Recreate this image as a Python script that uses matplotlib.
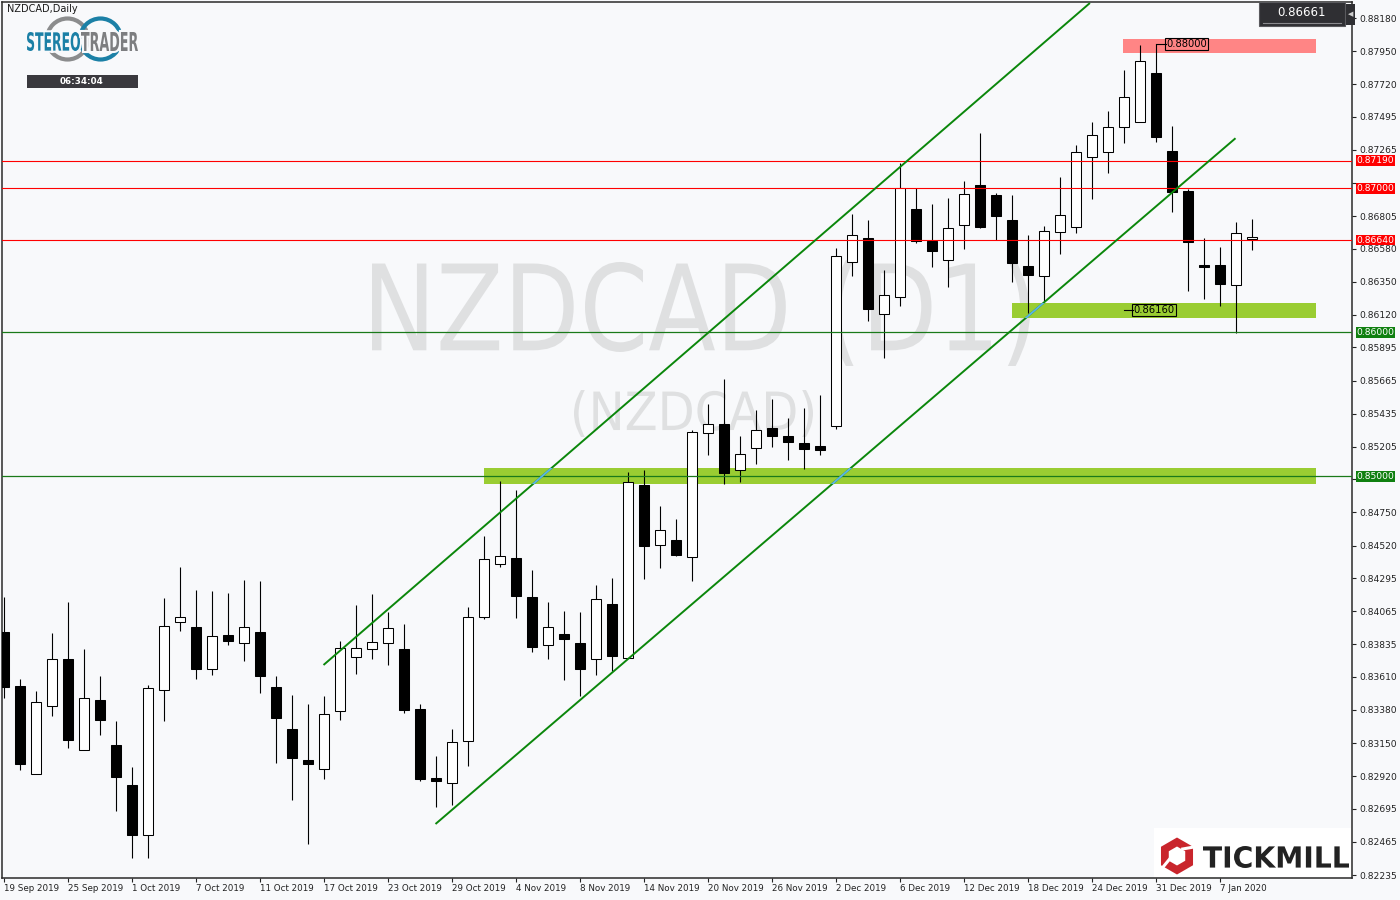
import numpy as np
import pandas as pd
import matplotlib
matplotlib.use('Agg')
import matplotlib.pyplot as plt
import matplotlib.patheffects as pe
from matplotlib.patches import Rectangle, PathPatch, Circle, RegularPolygon
from matplotlib.lines import Line2D
from matplotlib.textpath import TextPath
from matplotlib.font_manager import FontProperties
from matplotlib.transforms import Affine2D, IdentityTransform, blended_transform_factory

W, H = 1400, 900
BG = '#f8f9fb'

# trading days shown (weekdays, no Christmas / New Year bar)
dates = [d for d in pd.bdate_range('2019-09-19', '2020-01-09')
         if d.strftime('%m-%d') not in ('12-25', '01-01')]

opens = [0.83923, 0.83546, 0.82934, 0.83405, 0.83734, 0.83100, 0.83449, 0.83137, 0.82860, 0.82515,
         0.83516, 0.83988, 0.83956, 0.83662, 0.83900, 0.83842, 0.83921, 0.83539, 0.83248, 0.83033,
         0.82968, 0.83371, 0.83745, 0.83801, 0.83842, 0.83801, 0.83385, 0.82906, 0.82871, 0.83163,
         0.84023, 0.84390, 0.84434, 0.84162, 0.83829, 0.83907, 0.83842, 0.83736, 0.84113, 0.83738,
         0.84938, 0.84522, 0.84557, 0.84439, 0.85301, 0.85362, 0.85045, 0.85195, 0.85334, 0.85278,
         0.85232, 0.85211, 0.85348, 0.86485, 0.86654, 0.86125, 0.86243, 0.86855, 0.86633, 0.86499,
         0.86742, 0.87022, 0.86952, 0.86779, 0.86460, 0.86388, 0.86693, 0.86732, 0.87214, 0.87253,
         0.87422, 0.87457, 0.87798, 0.87257, 0.86980, 0.86465, 0.86465, 0.86326, 0.86647]
highs = [0.84166, 0.83595, 0.83512, 0.83916, 0.84131, 0.83803, 0.83616, 0.83303, 0.82984, 0.83551,
         0.84157, 0.84374, 0.84212, 0.84205, 0.84191, 0.84282, 0.84275, 0.83616, 0.83484, 0.83421,
         0.83479, 0.83858, 0.84108, 0.84184, 0.84062, 0.83976, 0.83421, 0.83061, 0.83246, 0.84092,
         0.84587, 0.84968, 0.84906, 0.84351, 0.84129, 0.84066, 0.84060, 0.84247, 0.84293, 0.85031,
         0.85045, 0.84795, 0.84705, 0.85322, 0.85502, 0.85676, 0.85280, 0.85461, 0.85537, 0.85405,
         0.85473, 0.85565, 0.86587, 0.86820, 0.86779, 0.86434, 0.87176, 0.86999, 0.86890, 0.86931,
         0.87049, 0.87384, 0.86968, 0.86952, 0.86675, 0.86737, 0.87079, 0.87299, 0.87459, 0.87535,
         0.87819, 0.87993, 0.87998, 0.87431, 0.86992, 0.86652, 0.86592, 0.86763, 0.86786]
lows = [0.83461, 0.82964, 0.82934, 0.83340, 0.83118, 0.83100, 0.83209, 0.82681, 0.82355, 0.82355,
        0.83306, 0.83930, 0.83597, 0.83625, 0.83831, 0.83722, 0.83500, 0.83014, 0.82758, 0.82452,
        0.82903, 0.83313, 0.83632, 0.83731, 0.83694, 0.83361, 0.82889, 0.82709, 0.82723, 0.82993,
        0.84009, 0.84374, 0.84020, 0.83784, 0.83736, 0.83588, 0.83479, 0.83623, 0.83650, 0.83738,
        0.84288, 0.84367, 0.84448, 0.84277, 0.85149, 0.84950, 0.84963, 0.85088, 0.85204, 0.85116,
        0.85054, 0.85151, 0.85327, 0.86392, 0.86080, 0.85824, 0.86184, 0.86621, 0.86455, 0.86316,
        0.86580, 0.86725, 0.86640, 0.86351, 0.86132, 0.86219, 0.86545, 0.86691, 0.86924, 0.87107,
        0.87315, 0.87457, 0.87322, 0.86836, 0.86288, 0.86233, 0.86184, 0.85993, 0.86573]
closes = [0.83541, 0.83007, 0.83433, 0.83734, 0.83174, 0.83463, 0.83313, 0.82917, 0.82515, 0.83532,
          0.83960, 0.84023, 0.83666, 0.83891, 0.83860, 0.83953, 0.83618, 0.83326, 0.83049, 0.83007,
          0.83350, 0.83808, 0.83808, 0.83849, 0.83946, 0.83382, 0.82903, 0.82885, 0.83156, 0.84028,
          0.84425, 0.84446, 0.84173, 0.83819, 0.83953, 0.83874, 0.83662, 0.84148, 0.83752, 0.84959,
          0.84519, 0.84626, 0.84457, 0.85306, 0.85362, 0.85026, 0.85153, 0.85320, 0.85278, 0.85237,
          0.85188, 0.85181, 0.86529, 0.86673, 0.86164, 0.86256, 0.86999, 0.86631, 0.86566, 0.86721,
          0.86957, 0.86732, 0.86809, 0.86483, 0.86399, 0.86702, 0.86811, 0.87248, 0.87366, 0.87424,
          0.87630, 0.87880, 0.87352, 0.86975, 0.86628, 0.86455, 0.86337, 0.86687, 0.86661]

yticks = [0.88180, 0.87950, 0.87720, 0.87495, 0.87265, 0.87035, 0.86805, 0.86580, 0.86350,
          0.86120, 0.85895, 0.85665, 0.85435, 0.85205, 0.84980, 0.84750, 0.84520, 0.84295,
          0.84065, 0.83835, 0.83610, 0.83380, 0.83150, 0.82920, 0.82695, 0.82465, 0.82235]

red_levels = [0.87190, 0.87000, 0.86640]
green_levels = [0.86000, 0.85000]

# channel: (bar, price) end points
upper_chan = ([20, 67.9], [0.83692, 0.88284])
lower_chan = ([27, 77], [0.82589, 0.87346])

# zones: (bar start, bar end, low, high)
green_zones = [(30, 82, 0.84950, 0.85057), (63, 82, 0.86101, 0.86203)]
red_zone = (69.95, 82, 0.87939, 0.88034)

last_price = 0.86661


def path_text(target, s, box, color, weight='normal', zorder=1, stroke=None):
    # draw text stretched into a pixel box (x0, y0, x1, y1), y measured from top
    x0, y0, x1, y1 = box
    tp = TextPath((0, 0), s, size=100, prop=FontProperties(family='DejaVu Sans', weight=weight))
    ext = tp.get_extents()
    tr = (Affine2D().translate(-ext.x0, -ext.y0)
          .scale((x1 - x0) / ext.width, (y1 - y0) / ext.height)
          .translate(x0, H - y1))
    patch = PathPatch(tp, transform=tr, fc=color, ec='none', zorder=zorder)
    if stroke:
        patch.set_path_effects([pe.Stroke(linewidth=stroke, foreground=BG), pe.Normal()])
    target.add_artist(patch)
    return patch


fig = plt.figure(figsize=(W / 100, H / 100), dpi=100, facecolor=BG)
ax = fig.add_axes([2 / W, 22 / H, 1350 / W, 876 / H], facecolor=BG)

# watermark
path_text(ax, 'NZDCAD (D1)', (372, 260, 1030, 366), '#dfe0e1', zorder=0.5)
path_text(ax, '(NZDCAD)', (574, 390, 813, 437), '#dfe0e1', zorder=0.5)

# zones
zone_patches = []
for b0, b1, lo, hi in green_zones:
    r = Rectangle((b0, lo), b1 - b0, hi - lo, fc='#9acd32', ec='none', zorder=1)
    ax.add_patch(r)
    zone_patches.append(r)
b0, b1, lo, hi = red_zone
ax.add_patch(Rectangle((b0, lo), b1 - b0, hi - lo, fc='#ff8585', ec='none', zorder=1))

# candles
for i in range(len(dates)):
    o, h, l, c = opens[i], highs[i], lows[i], closes[i]
    ax.vlines(i, l, h, color='black', lw=0.8, zorder=2)
    body = max(abs(c - o), 0.00001)
    ax.add_patch(Rectangle((i - 0.3125, min(o, c)), 0.625, body,
                           fc='black' if c < o else 'white', ec='black', lw=0.75, zorder=3))

# levels
for lv in red_levels:
    ax.axhline(lv, color='#ff0000', lw=0.8, zorder=4)
for lv in green_levels:
    ax.axhline(lv, color='#1a7a1a', lw=0.9, zorder=4)

# channel
for xs, ys in (upper_chan, lower_chan):
    ax.plot(xs, ys, color='#0b870b', lw=1.4, zorder=4, solid_capstyle='butt')
    for zp in zone_patches:
        ln, = ax.plot(xs, ys, color='#5ab4e6', lw=1.4, zorder=4.5)
        ln.set_clip_path(zp)

# price labels on the zones
ax.plot([72, 72.65], [0.88, 0.88], color='black', lw=0.8, zorder=5)
ax.text(73.95, 0.88, '0.88000', fontsize=7.2, ha='center', va='center', color='black', zorder=6,
        bbox=dict(boxstyle='square,pad=0.12', fc='none', ec='black', lw=0.8))
ax.plot([70, 70.6], [0.86154, 0.86154], color='black', lw=0.8, zorder=5)
ax.text(71.9, 0.86154, '0.86160', fontsize=7.2, ha='center', va='center', color='black', zorder=6,
        bbox=dict(boxstyle='square,pad=0.12', fc='none', ec='black', lw=0.8))

ax.set_xlim(-0.094, 84.28)
ax.set_ylim(0.822144, 0.88291)

# axes styling
for sp in ax.spines.values():
    sp.set_color('#2a2a2a')
    sp.set_linewidth(1.1)
ax.yaxis.tick_right()
ax.set_yticks(yticks)
# the two scale values sitting under the 0.87000 / 0.85000 labels are hidden there
hidden = {0.87035, 0.84980}
ax.set_yticklabels(['' if v in hidden else f'{v:.5f}' for v in yticks])
xt = list(range(0, len(dates), 4))
ax.set_xticks(xt)
ax.set_xticklabels([f"{dates[i].day} {dates[i].strftime('%b %Y')}" for i in xt])
for lab in ax.get_xticklabels():
    lab.set_horizontalalignment('left')
ax.tick_params(axis='y', direction='out', length=3, width=0.8, pad=2.5, labelsize=6.6,
               colors='#222222')
ax.tick_params(axis='x', direction='out', length=3, width=0.8, pad=1.5, labelsize=6.3,
               colors='#222222')

# highlighted level labels on the price scale
trans = blended_transform_factory(ax.transAxes, ax.transData)
for lv, col in [(v, '#ff0000') for v in red_levels] + [(v, '#108010') for v in green_levels]:
    ax.add_patch(Rectangle((1.0026, lv - 0.00038), 0.0296, 0.00076, transform=trans,
                           fc=col, ec='none', clip_on=False, zorder=8))
    ax.text(1.0174, lv, f'{lv:.5f}', transform=trans, fontsize=6.6, color='white',
            ha='center', va='center', clip_on=False, zorder=9)

# top left caption and StereoTrader logo
fig.text(7 / W, 1 - 4 / H, 'NZDCAD,Daily', fontsize=7, color='#1a1a1a', ha='left', va='top')
fig.add_artist(Circle((67.5, H - 39), 20.5, transform=IdentityTransform(), fill=False,
                      ec='#8b8c8d', lw=3, zorder=5))
fig.add_artist(Circle((100.5, H - 39), 20.5, transform=IdentityTransform(), fill=False,
                      ec='#1b80a6', lw=3, zorder=5))
path_text(fig, 'STEREO', (27, 32, 80, 51), '#1b80a6', weight='bold', zorder=6, stroke=3)
path_text(fig, 'TRADER', (81, 32, 138, 51), '#7d7e80', weight='bold', zorder=6, stroke=3)
fig.add_artist(Rectangle((27 / W, 1 - 88 / H), 111 / W, 13 / H, transform=fig.transFigure,
                         fc='#3a393e', ec='none', zorder=5))
fig.text(82 / W, 1 - 81.5 / H, '06:34:04', fontsize=6.3, color='white', weight='bold',
         ha='center', va='center', zorder=6)

# last price box
fig.add_artist(Rectangle((1259 / W, 1 - 26 / H), 86 / W, 24 / H, transform=fig.transFigure,
                         fc='#2f2f33', ec='#5a5a5e', lw=0.8, zorder=5))
fig.add_artist(Line2D([1263 / W, 1341 / W], [1 - 22.5 / H] * 2, transform=fig.transFigure,
                      color='#8a8a8e', lw=0.8, zorder=6))
fig.text(1301 / W, 1 - 13 / H, f'{last_price:.5f}', fontsize=8.5, color='white',
         ha='center', va='center', zorder=7)
fig.add_artist(Rectangle((1346 / W, 1 - 25 / H), 9 / W, 21 / H, transform=fig.transFigure,
                         fc='#2f2f33', ec='none', zorder=5))
fig.text(1350.5 / W, 1 - 14 / H, '\u25c0', fontsize=5, color='#d0d0d0',
         ha='center', va='center', zorder=7)

# Tickmill logo
fig.add_artist(Rectangle((1154 / W, 1 - 877 / H), 197 / W, 49 / H, transform=fig.transFigure,
                         fc='white', ec='none', zorder=5))
cx, cy = 1177, H - 856
fig.add_artist(RegularPolygon((cx, cy), 6, radius=18.5, orientation=0, fc='#c9252c', ec='none',
                              transform=IdentityTransform(), zorder=6))
fig.add_artist(RegularPolygon((cx, cy), 6, radius=9.5, orientation=0, fc='white', ec='none',
                              transform=IdentityTransform(), zorder=7))
for ang in (np.deg2rad(35), np.deg2rad(215)):
    fig.add_artist(Line2D([cx + 7 * np.cos(ang), cx + 21 * np.cos(ang)],
                          [cy + 7 * np.sin(ang) + 3, cy + 21 * np.sin(ang) - 3],
                          transform=IdentityTransform(), color='white', lw=2.2, zorder=8))
path_text(fig, 'TICKMILL', (1203, 846, 1349, 868), '#222222', weight='bold', zorder=7)

fig.savefig('out.png', dpi=100, facecolor=BG)
